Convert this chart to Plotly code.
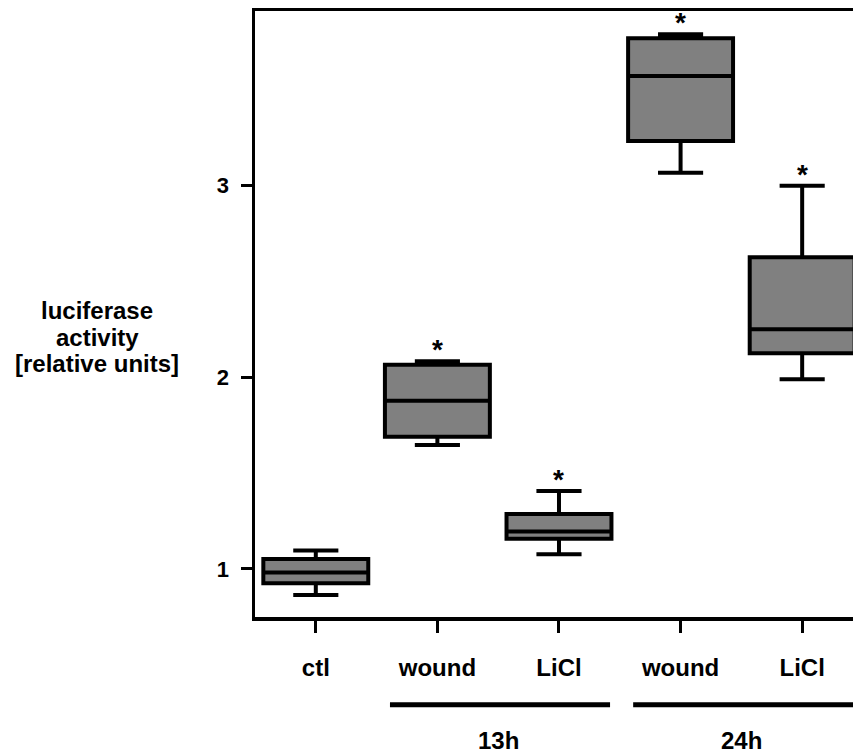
import plotly.graph_objects as go

# ---- data ----
categories = ["ctl", "wound", "LiCl", "wound", "LiCl"]
lower_whisker = [0.864, 1.647, 1.077, 3.068, 1.990]
q1_values = [0.925, 1.690, 1.158, 3.234, 2.126]
median_values = [0.981, 1.878, 1.195, 3.573, 2.251]
q3_values = [1.052, 2.065, 1.287, 3.770, 2.627]
upper_whisker = [1.096, 2.084, 1.407, 3.791, 3.000]
significant = [False, True, True, True, True]
group_labels = ["13h", "24h"]
group_first = [1, 3]
group_last = [2, 4]
y_ticks = [1, 2, 3]
y_title_lines = ["luciferase", "activity", "[relative units]"]

positions = list(range(len(categories)))
FONT = "Liberation Sans, Arial, sans-serif"

fig = go.Figure()
fig.add_trace(go.Box(
    x=positions,
    q1=q1_values, median=median_values, q3=q3_values,
    lowerfence=lower_whisker, upperfence=upper_whisker,
    width=0.863,
    whiskerwidth=0.43,
    fillcolor="#808080",
    line=dict(color="black", width=4),
    boxpoints=False,
    hoverinfo="skip",
    showlegend=False,
))

annotations = []
for i, sig in enumerate(significant):
    if sig:
        annotations.append(dict(
            x=positions[i], y=upper_whisker[i], xref="x", yref="y",
            text="<b>*</b>", showarrow=False, yanchor="bottom",
            font=dict(family=FONT, size=28, color="black"), yshift=-6,
        ))

shapes = []
for lab, a, b in zip(group_labels, group_first, group_last):
    shapes.append(dict(
        type="line", xref="x", yref="paper",
        x0=positions[a] - 0.39, x1=positions[b] + 0.42,
        y0=-0.145, y1=-0.145,
        line=dict(color="black", width=5),
    ))
    annotations.append(dict(
        x=(positions[a] + positions[b]) / 2, y=-0.204, xref="x", yref="paper",
        text=f"<b>{lab}</b>", showarrow=False, yanchor="middle",
        font=dict(family=FONT, size=24, color="black"),
    ))

# y-axis title, one annotation per line to keep the tight line spacing
for k, line in enumerate(y_title_lines):
    annotations.append(dict(
        x=-0.264, y=0.506 - k * 0.044, xref="paper", yref="paper",
        text=f"<b>{line}</b>",
        showarrow=False, xanchor="center", yanchor="middle",
        font=dict(family=FONT, size=24, color="black"),
    ))

fig.update_layout(
    width=853, height=753,
    margin=dict(l=255, r=0, t=11, b=136),
    paper_bgcolor="white", plot_bgcolor="white",
    font=dict(family=FONT, color="black"),
    shapes=shapes, annotations=annotations,
    showlegend=False,
)
fig.update_xaxes(
    range=[-0.5, 4.418],
    tickmode="array", tickvals=positions,
    ticktext=[f"<b>{c}</b>" for c in categories],
    tickfont=dict(family=FONT, size=24, color="black"),
    ticks="outside", ticklen=12, tickwidth=3, tickcolor="black",
    showline=True, linewidth=3.5, linecolor="black", mirror=True,
    showgrid=False, zeroline=False,
    ticklabelstandoff=15,
)
fig.update_yaxes(
    range=[0.749, 3.912],
    tickmode="array", tickvals=y_ticks,
    ticktext=[f"<b>{t}</b>" for t in y_ticks],
    tickfont=dict(family=FONT, size=22, color="black"),
    ticks="outside", ticklen=11, tickwidth=3, tickcolor="black",
    showline=True, linewidth=3.5, linecolor="black", mirror=False,
    showgrid=False, zeroline=False,
    ticklabelstandoff=7,
)

fig.write_html(
    "out.html",
    config={"displayModeBar": False, "staticPlot": True},
    post_script="document.body.style.margin='0';document.body.style.overflow='hidden';",
)
